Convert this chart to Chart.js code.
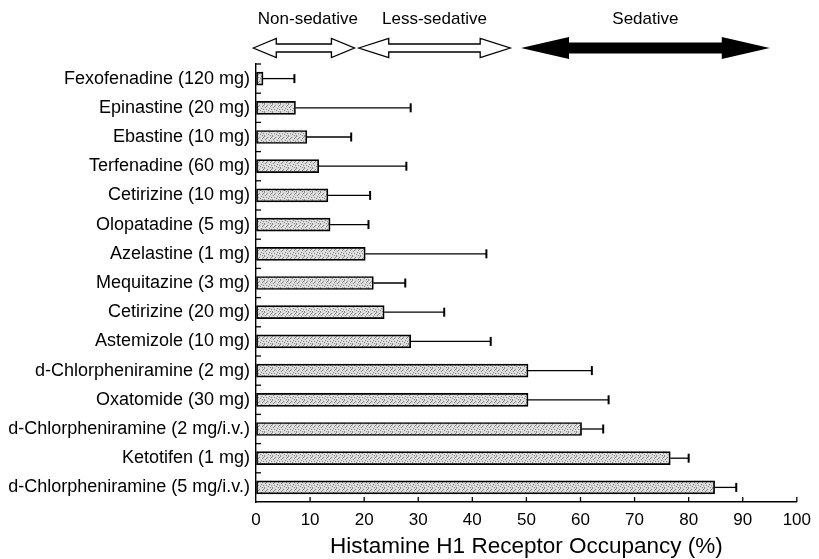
<!DOCTYPE html>
<html><head><meta charset="utf-8">
<script src="https://cdn.jsdelivr.net/npm/chart.js@4/dist/chart.umd.min.js"></script>
<style>html,body{margin:0;padding:0;background:#fff}canvas{display:block}</style>
</head><body>
<canvas id="c" width="819" height="559"></canvas>
<script>
// ---- data ----
const categories = [
  'Fexofenadine (120 mg)', 'Epinastine (20 mg)', 'Ebastine (10 mg)', 'Terfenadine (60 mg)',
  'Cetirizine (10 mg)', 'Olopatadine (5 mg)', 'Azelastine (1 mg)', 'Mequitazine (3 mg)',
  'Cetirizine (20 mg)', 'Astemizole (10 mg)', 'd-Chlorpheniramine (2 mg)', 'Oxatomide (30 mg)',
  'd-Chlorpheniramine (2 mg/i.v.)', 'Ketotifen (1 mg)', 'd-Chlorpheniramine (5 mg/i.v.)'
];
const occupancy = [1.3, 7.3, 9.4, 11.6, 13.3, 13.7, 20.2, 21.7, 23.7, 28.6, 50.3, 50.3, 60.2, 76.6, 84.8];
const errorSD   = [5.8, 21.3, 8.2, 16.2, 7.8, 7.1, 22.4, 5.9, 11.1, 14.8, 11.8, 14.9, 4.0, 3.4, 4.0];
const xTickValues = [0, 10, 20, 30, 40, 50, 60, 70, 80, 90, 100];
const zoneLabels = ['Non-sedative', 'Less-sedative', 'Sedative'];
const zoneFrom   = [-0.5, 19, 49];
const zoneTo     = [18.2, 47, 95];
const zoneFilled = [false, false, true];
const axisTitle = 'Histamine H1 Receptor Occupancy (%)';

const FONT = "'Liberation Sans', Arial, Helvetica, sans-serif";
Chart.defaults.font.family = FONT;
Chart.defaults.color = '#000';

// stipple pattern for bars (fixed arrangement)
function makePattern() {
  const p = document.createElement('canvas');
  p.width = 8; p.height = 8;
  const g = p.getContext('2d');
  g.fillStyle = '#dadada'; g.fillRect(0, 0, 8, 8);
  g.fillStyle = '#8a8a8a';
  const dots = [[0,0],[3,1],[6,2],[1,3],[5,4],[2,5],[7,5],[4,6],[0,7],[6,7],[2,2],[7,1]];
  dots.forEach(d => g.fillRect(d[0], d[1], 1, 1));
  g.fillStyle = '#f4f4f4';
  [[1,1],[5,2],[3,4],[6,6],[1,6]].forEach(d => g.fillRect(d[0], d[1], 1, 1));
  return document.getElementById('c').getContext('2d').createPattern(p, 'repeat');
}

const decor = {
  id: 'decor',
  afterDatasetsDraw(chart) {
    const ctx = chart.ctx;
    const xs = chart.scales.x, ys = chart.scales.y;
    const meta = chart.getDatasetMeta(0);
    ctx.save();
    // error bars
    ctx.strokeStyle = '#000';
    meta.data.forEach((bar, i) => {
      const x0 = xs.getPixelForValue(occupancy[i]);
      const x1 = xs.getPixelForValue(occupancy[i] + errorSD[i]);
      const y = bar.y;
      ctx.lineWidth = 1.3;
      ctx.beginPath(); ctx.moveTo(x0, y); ctx.lineTo(x1, y); ctx.stroke();
      ctx.lineWidth = 2;
      ctx.beginPath(); ctx.moveTo(x1, y - 4.5); ctx.lineTo(x1, y + 4.5); ctx.stroke();
    });
    // inner ticks on y axis at category boundaries
    const left = chart.chartArea.left, bottom = chart.chartArea.bottom;
    ctx.lineWidth = 1.3;
    for (let i = 0; i <= categories.length - 1; i++) {
      const yb = (i === 0) ? chart.chartArea.top : (ys.getPixelForValue(i - 1) + ys.getPixelForValue(i)) / 2;
      ctx.beginPath(); ctx.moveTo(left, yb); ctx.lineTo(left + 5, yb); ctx.stroke();
    }
    // inner ticks on x axis
    xTickValues.forEach(v => {
      if (v === 0) return;
      const px = xs.getPixelForValue(v);
      ctx.beginPath(); ctx.moveTo(px, bottom); ctx.lineTo(px, bottom - 5); ctx.stroke();
    });
    // zone arrows and labels
    const yc = 48;
    zoneLabels.forEach((lab, i) => {
      const a = xs.getPixelForValue(zoneFrom[i]);
      const b = xs.getPixelForValue(zoneTo[i]);
      const filled = zoneFilled[i];
      const hh = filled ? 11 : 9.5;   // head half-height
      const sh = filled ? 5.5 : 4;    // shaft half-height
      const hl = filled ? 48 : (i === 0 ? 23 : 30); // head length
      ctx.beginPath();
      ctx.moveTo(a, yc);
      ctx.lineTo(a + hl, yc - hh);
      ctx.lineTo(a + hl, yc - sh);
      ctx.lineTo(b - hl, yc - sh);
      ctx.lineTo(b - hl, yc - hh);
      ctx.lineTo(b, yc);
      ctx.lineTo(b - hl, yc + hh);
      ctx.lineTo(b - hl, yc + sh);
      ctx.lineTo(a + hl, yc + sh);
      ctx.lineTo(a + hl, yc + hh);
      ctx.closePath();
      if (filled) { ctx.fillStyle = '#000'; ctx.fill(); }
      else { ctx.fillStyle = '#fff'; ctx.fill(); ctx.lineWidth = 1.3; ctx.strokeStyle = '#000'; ctx.stroke(); }
      ctx.fillStyle = '#000';
      ctx.font = '17px ' + FONT;
      ctx.textAlign = 'center';
      ctx.textBaseline = 'middle';
      ctx.fillText(lab, (a + b) / 2 + (i === 0 ? 4 : 0), 19);
    });
    ctx.restore();
  }
};

new Chart(document.getElementById('c'), {
  type: 'bar',
  data: {
    labels: categories,
    datasets: [{
      data: occupancy,
      backgroundColor: makePattern(),
      borderColor: '#000',
      borderWidth: 1.7,
      borderSkipped: false,
      barThickness: 13
    }]
  },
  options: {
    indexAxis: 'y',
    responsive: false,
    animation: false,
    events: [],
    layout: { padding: { top: 64, right: 18, left: 0, bottom: 0 } },
    plugins: { legend: { display: false }, tooltip: { enabled: false } },
    scales: {
      x: {
        type: 'linear', min: 0, max: 100,
        afterBuildTicks(scale) { scale.ticks = xTickValues.map(v => ({ value: v })); },
        afterFit(scale) { scale.height = 57; },
        ticks: { font: { size: 17 }, color: '#000', padding: 8, maxRotation: 0 },
        grid: { display: true, drawOnChartArea: false, drawTicks: false },
        border: { color: '#000', width: 1.4 },
        title: { display: true, text: axisTitle, font: { size: 22.5 }, color: '#000', padding: { top: 0, bottom: -1 } }
      },
      y: {
        afterFit(scale) { scale.width = 256; },
        ticks: { font: { size: 18 }, color: '#000', padding: 6 },
        grid: { display: true, drawOnChartArea: false, drawTicks: false },
        border: { color: '#000', width: 1.4 }
      }
    }
  },
  plugins: [decor]
});
</script>
</body></html>
